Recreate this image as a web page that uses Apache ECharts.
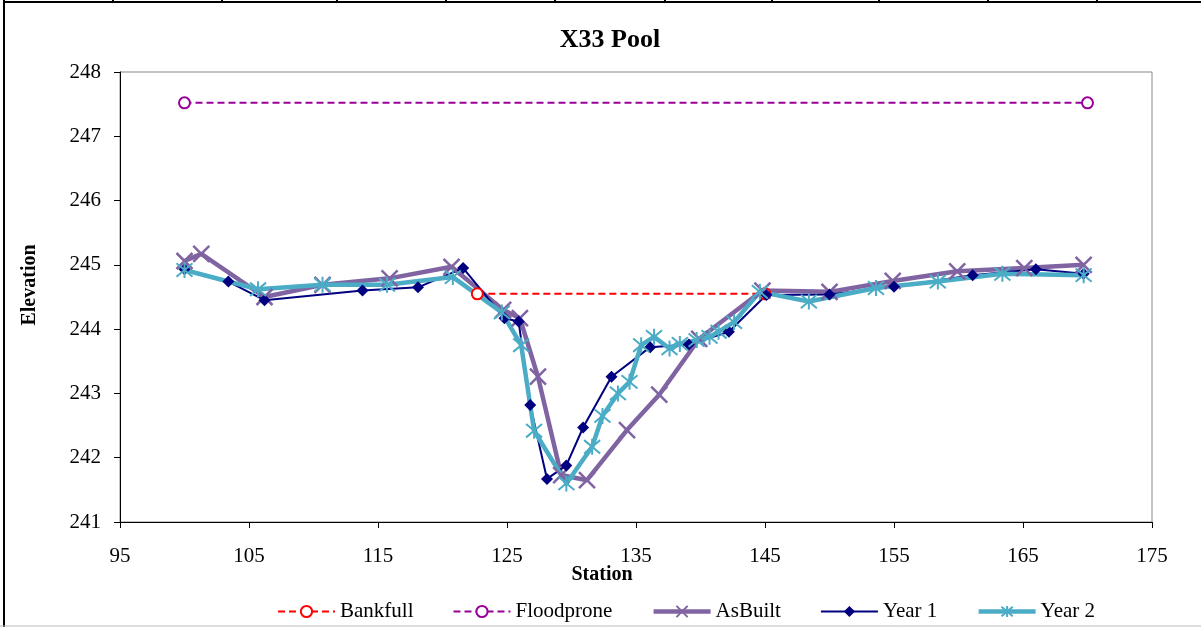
<!DOCTYPE html>
<html>
<head>
<meta charset="utf-8">
<script src="https://cdn.jsdelivr.net/npm/echarts@6/dist/echarts.min.js"></script>
<style>
  html, body { margin: 0; padding: 0; background: #fff; }
  #chart { width: 1201px; height: 627px; }
</style>
</head>
<body>
<div id="chart"></div>
<script>
// Cross-section X33 Pool: station vs. elevation
const bankfull   = [[122.7, 244.55], [145.0, 244.55]];
const floodprone = [[100.0, 247.52], [170.0, 247.52]];
const asBuilt = [
  [100.0, 245.06], [101.3, 245.17], [106.2, 244.50], [110.7, 244.69],
  [115.9, 244.79], [120.7, 244.97], [124.7, 244.30], [126.0, 244.17],
  [127.4, 243.26], [129.2, 241.73], [131.2, 241.65], [134.3, 242.43],
  [136.8, 242.98], [139.9, 243.85], [144.8, 244.60], [150.0, 244.58],
  [154.9, 244.75], [159.9, 244.90], [165.1, 244.95], [169.7, 245.00]
];
const year1 = [
  [100.0, 244.93], [103.4, 244.74], [106.2, 244.45], [113.8, 244.60],
  [118.1, 244.65], [121.6, 244.95], [124.8, 244.17], [125.9, 244.12],
  [126.8, 242.82], [128.1, 241.67], [129.6, 241.88], [130.9, 242.47],
  [133.1, 243.26], [136.1, 243.72], [139.1, 243.76], [142.2, 243.96],
  [145.1, 244.53], [150.0, 244.54], [155.0, 244.66], [161.1, 244.84],
  [166.0, 244.93], [169.7, 244.86]
];
const year2 = [
  [100.0, 244.92], [105.7, 244.62], [110.7, 244.69], [115.7, 244.69],
  [120.8, 244.81], [124.6, 244.26], [126.1, 243.75], [127.1, 242.42],
  [129.6, 241.60], [131.6, 242.17], [132.4, 242.65], [133.6, 243.00],
  [134.5, 243.18], [135.4, 243.75], [136.4, 243.88], [137.6, 243.70],
  [138.4, 243.77], [139.7, 243.83], [140.7, 243.88], [141.4, 243.96],
  [142.6, 244.11], [144.6, 244.58], [148.4, 244.43], [153.6, 244.64],
  [158.4, 244.74], [163.4, 244.86], [169.7, 244.84]
];
const seriesNames = ['Bankfull', 'Floodprone', 'AsBuilt', 'Year 1', 'Year 2'];
const legendLineWidths = [2, 2, 4.5, 2, 4.5];

const FONT = '"Liberation Serif", "Times New Roman", serif';
const crossPath = 'path://M0,0L10,10M10,0L0,10';
const starPath = 'path://M0,0L10,10M10,0L0,10M5,-1L5,11';

const chart = echarts.init(document.getElementById('chart'), null, { renderer: 'canvas' });

// top frame with short tick marks
const frameTicks = [113, 222, 337, 446, 555, 665, 772, 879, 988, 1097];
const graphics = [
  { type: 'line', shape: { x1: 4, y1: 2, x2: 1201, y2: 2 }, style: { stroke: '#000', lineWidth: 2 } },
  { type: 'line', shape: { x1: 4, y1: 0, x2: 4, y2: 627 }, style: { stroke: '#000', lineWidth: 2 } },
  { type: 'line', shape: { x1: 0, y1: 626, x2: 1201, y2: 626 }, style: { stroke: '#bbb', lineWidth: 1 } },
  {
    type: 'text', x: 30, y: 285, rotation: Math.PI / 2,
    style: { text: 'Elevation', font: 'bold 20px ' + FONT, fill: '#000', align: 'center', verticalAlign: 'middle' }
  },
  {
    type: 'text', x: 602, y: 575,
    style: { text: 'Station', font: 'bold 20px ' + FONT, fill: '#000', align: 'center', verticalAlign: 'middle' }
  }
];
frameTicks.forEach(x => graphics.push({
  type: 'line', shape: { x1: x, y1: 0, x2: x, y2: 3 }, style: { stroke: '#000', lineWidth: 2 }
}));

chart.setOption({
  animation: false,
  backgroundColor: '#fff',
  title: {
    text: 'X33 Pool', left: 605, top: 22, textAlign: 'center',
    textStyle: { fontFamily: FONT, fontSize: 26, fontWeight: 'bold', color: '#000' }
  },
  grid: {
    left: 120, right: 49, top: 72, bottom: 105,
    show: true, borderColor: '#888', borderWidth: 1, backgroundColor: 'transparent'
  },
  legend: {
    data: seriesNames.map((name, i) => ({ name: name, lineStyle: { width: legendLineWidths[i] } })),
    left: 272, top: 596, itemWidth: 57, itemHeight: 14, itemGap: 39,
    textStyle: { fontFamily: FONT, fontSize: 21, color: '#000' }
  },
  xAxis: {
    type: 'value', min: 95, max: 175, interval: 10,
    axisLine: { onZero: false, lineStyle: { color: '#000', width: 1 } },
    axisTick: { show: true, inside: false, length: 6, lineStyle: { color: '#000' } },
    axisLabel: { margin: 24, fontFamily: FONT, fontSize: 21, color: '#000' },
    splitLine: { show: false }
  },
  yAxis: {
    type: 'value', min: 241, max: 248, interval: 1,
    axisLine: { show: true, onZero: false, lineStyle: { color: '#000', width: 1 } },
    axisTick: { show: true, inside: false, length: 6, lineStyle: { color: '#000' } },
    axisLabel: { margin: 19, fontFamily: FONT, fontSize: 21, color: '#000' },
    splitLine: { show: false }
  },
  graphic: graphics,
  series: [
    {
      name: 'Bankfull', type: 'line', data: bankfull,
      symbol: 'emptyCircle', symbolSize: 11, color: '#FF0000',
      lineStyle: { color: '#FF0000', width: 2, type: [7, 4] },
      itemStyle: { color: '#FF0000', borderColor: '#FF0000', borderWidth: 1.5 }
    },
    {
      name: 'Floodprone', type: 'line', data: floodprone,
      symbol: 'emptyCircle', symbolSize: 11, color: '#990099',
      lineStyle: { color: '#990099', width: 2, type: [7, 4] },
      itemStyle: { color: '#990099', borderColor: '#990099', borderWidth: 1.5 }
    },
    {
      name: 'AsBuilt', type: 'line', data: asBuilt,
      symbol: crossPath, symbolSize: 16, color: '#8064A2',
      lineStyle: { color: '#8064A2', width: 4.5 },
      itemStyle: { color: 'none', borderColor: '#8064A2', borderWidth: 2.5 }
    },
    {
      name: 'Year 1', type: 'line', data: year1,
      symbol: 'diamond', symbolSize: 12, color: '#000080',
      lineStyle: { color: '#000080', width: 2 },
      itemStyle: { color: '#000080' }
    },
    {
      name: 'Year 2', type: 'line', data: year2,
      symbol: starPath, symbolSize: 16, color: '#4BACC6',
      lineStyle: { color: '#4BACC6', width: 4.5 },
      itemStyle: { color: 'none', borderColor: '#4BACC6', borderWidth: 2 }
    }
  ]
});
</script>
</body>
</html>
